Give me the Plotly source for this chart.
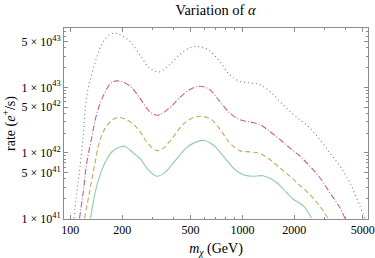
import plotly.graph_objects as go

# ---- data (mass in GeV, rate in e+/s) ----
m_blue = [105, 108, 113, 119, 124, 133, 142, 152, 169, 181, 194, 222, 257, 288, 330, 377, 431, 493, 551, 630,
          738, 843, 965, 1103, 1261, 1442, 1649, 1886, 2157, 2466, 2820, 3225, 3687, 4217, 4822, 5156]
r_blue = [1.0e41, 2.06e41, 5.25e41, 1.9e42, 6.9e42, 1.56e43, 2.8e43, 4.5e43, 6.35e43, 6.7e43, 6.35e43, 5.0e43,
          2.97e43, 1.98e43, 1.72e43, 2.22e43, 3.15e43, 4.0e43, 4.2e43, 3.76e43,
          2.49e43, 1.56e43, 1.23e43, 1.17e43, 1.10e43, 8.7e42, 6.1e42, 4.3e42, 3.2e42, 2.4e42, 1.6e42, 1.0e42,
          6.25e41, 3.5e41, 1.53e41, 1.0e41]

m_mag = [113, 119, 124, 133, 142, 155, 173, 191, 222, 257, 288, 322, 377, 431, 493, 564, 645, 738, 843, 965,
         1103, 1261, 1442, 1649, 1886, 2157, 2466, 2820, 3225, 3687, 3943]
r_mag = [1.0e41, 2.6e41, 6.6e41, 1.69e42, 3.84e42, 7.3e42, 1.17e43, 1.25e43, 1.04e43, 6.5e42, 4.3e42, 3.74e42,
         4.85e42, 6.9e42, 9.2e42, 1.04e43, 9.2e42, 6.1e42, 4.07e42, 3.2e42,
         2.97e42, 2.7e42, 2.13e42, 1.6e42, 1.19e42, 8.9e41, 6.25e41, 4.16e41, 2.46e41, 1.45e41, 1.0e41]

m_gold = [121, 129.5, 138.5, 148, 162, 181, 198, 227, 257, 276, 308, 322, 345, 386, 451, 516, 577, 660, 755,
          843, 965, 1103, 1261, 1442, 1649, 1886, 2157, 2466, 2820, 3151]
r_gold = [1.0e41, 2.6e41, 6.6e41, 1.5e42, 2.54e42, 3.33e42, 3.42e42, 2.87e42, 2.02e42, 1.5e42, 1.12e42, 1.08e42,
          1.16e42, 1.6e42, 2.7e42, 3.42e42, 3.61e42, 3.22e42, 2.13e42,
          1.42e42, 1.08e42, 1.035e42, 9.76e41, 7.9e41, 5.9e41, 4.4e41, 3.18e41, 2.31e41, 1.53e41, 1.0e41]

m_green = [131, 138.5, 151.5, 169, 185, 207, 232, 257, 282, 316, 353, 404, 472, 540, 603, 690, 789, 902,
           1031, 1152, 1318, 1578, 1804, 1971, 2254, 2523]
r_green = [1.0e41, 2.31e41, 5.25e41, 9.4e41, 1.16e42, 1.26e42, 1.0e42, 7.9e41, 5.57e41, 4.4e41, 4.95e41, 7.45e41,
           1.19e42, 1.47e42, 1.54e42, 1.26e42, 8.4e41, 5.57e41,
           4.56e41, 4.4e41, 4.46e41, 3.53e41, 2.48e41, 1.96e41, 1.56e41, 1.0e41]

x_ticks = [100, 200, 500, 1000, 2000, 5000]
x_ticktext = ["100", "200", "500", "1000", "2000", "5000"]
x_minor = [300, 400, 600, 700, 800, 900, 3000, 4000]

y_ticks = [1e41, 5e41, 1e42, 5e42, 1e43, 5e43]
y_ticktext = ["1 × 10<sup>41</sup>", "5 × 10<sup>41</sup>", "1 × 10<sup>42</sup>",
              "5 × 10<sup>42</sup>", "1 × 10<sup>43</sup>", "5 × 10<sup>43</sup>"]
y_minor = [float(m) * 10.0 ** e for e in (41, 42, 43) for m in (2, 3, 4, 6, 7, 8, 9) if m * 10.0 ** e < 8.1e43]

FONT = "Liberation Serif, Times New Roman, serif"

fig = go.Figure()
fig.add_trace(go.Scatter(x=m_blue, y=r_blue, mode="lines", line=dict(color="#7070d4", width=1.1, dash="1px,3px", shape="spline", smoothing=1.0)))
fig.add_trace(go.Scatter(x=m_mag, y=r_mag, mode="lines", line=dict(color="#c85a96", width=1.1, dash="6px,2px,1px,2px", shape="spline", smoothing=1.0)))
fig.add_trace(go.Scatter(x=m_gold, y=r_gold, mode="lines", line=dict(color="#c4a85a", width=1.1, dash="5px,3px", shape="spline", smoothing=1.0)))
fig.add_trace(go.Scatter(x=m_green, y=r_green, mode="lines", line=dict(color="#8ccfa2", width=1.1, shape="spline", smoothing=0.8)))

axis_common = dict(showline=True, linecolor="#8c8c8c", linewidth=1, mirror="ticks", ticks="inside",
                   ticklen=4, tickcolor="#8c8c8c", tickwidth=1, showgrid=False, zeroline=False,
                   tickfont=dict(family=FONT, size=12, color="black"))

fig.update_layout(
    width=375, height=258,
    margin=dict(l=64, r=7, t=28, b=39, autoexpand=False),
    paper_bgcolor="white", plot_bgcolor="white",
    showlegend=False,
    title=dict(text="Variation of <i>α</i>", x=0.575, xanchor="center", y=0.963, yanchor="middle",
               font=dict(family=FONT, size=14.5, color="black")),
    xaxis=dict(type="log", range=[1.963, 3.73], tickmode="array", tickvals=x_ticks, ticktext=x_ticktext,
               minor=dict(tickmode="array", tickvals=x_minor, ticks="inside", ticklen=2, tickcolor="#8c8c8c"),
               title=dict(text="<i>m</i><sub><i>χ</i></sub> (GeV)", standoff=6, font=dict(family=FONT, size=14, color="black")),
               **axis_common),
    yaxis=dict(type="log", range=[40.99, 43.905], tickmode="array", tickvals=y_ticks, ticktext=y_ticktext,
               minor=dict(tickmode="array", tickvals=y_minor, ticks="inside", ticklen=2, tickcolor="#8c8c8c"),
               title=dict(text="rate (<i>e</i><sup>+</sup>/s)", standoff=2, font=dict(family=FONT, size=14, color="black")),
               **axis_common),
)

fig.write_html("out.html", config={"displayModeBar": False},
               post_script="document.body.style.margin='0';document.body.style.padding='0';")
